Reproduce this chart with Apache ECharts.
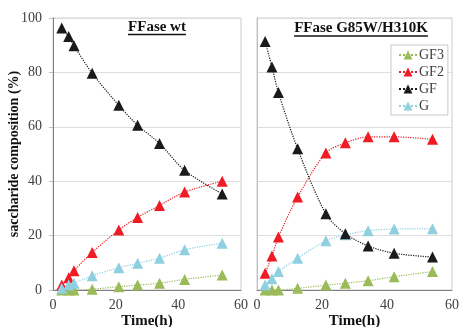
<!DOCTYPE html>
<html>
<head>
<meta charset="utf-8">
<script src="https://cdn.jsdelivr.net/npm/echarts@6/dist/echarts.min.js"></script>
<style>
  html, body { margin: 0; padding: 0; background: #fff; }
  #chart { width: 476px; height: 327px; }
</style>
</head>
<body>
<div id="chart"></div>
<script>
// sampling times (h)
const timeWt = [2.8, 5, 6.7, 12.5, 21, 27, 34, 42, 54];
const timeMut = [2.5, 4.6, 6.6, 12.5, 21.2, 27.2, 34.2, 42.2, 54];

const seriesNames = ['GF3', 'GF2', 'GF', 'G'];
const seriesColors = ['#9bbb59', '#ee1c25', '#1a1a1a', '#8ecfe0'];

// FFase wt composition (%)
const wtGF3 = [0, 0, 0, 0.3, 1.2, 1.8, 2.5, 3.9, 5.5];
const wtGF2 = [1.8, 4.5, 7.1, 13.8, 22.1, 26.7, 31.1, 36, 40];
const wtGF = [96.3, 93.2, 89.8, 79.7, 67.9, 60.6, 53.9, 44, 35.3];
const wtG = [0.6, 1.8, 2.5, 5.2, 8.2, 9.8, 11.7, 14.8, 17.2];

// FFase G85W/H310K composition (%)
const mutGF3 = [0, 0, 0, 0.6, 1.8, 2.5, 3.4, 4.9, 6.8];
const mutGF2 = [6.2, 12.5, 19.5, 34.2, 50.4, 54.1, 56.3, 56.3, 55.4];
const mutGF = [91.4, 82, 72.6, 51.9, 28, 20.7, 16.2, 13.5, 12.1];
const mutG = [1.8, 4.1, 6.8, 11.7, 18.1, 20.3, 21.8, 22.4, 22.5];

const xTicks = [0, 20, 40, 60];
const yTicks = [0, 20, 40, 60, 80, 100];

const titleWt = 'FFase wt';
const titleMut = 'FFase G85W/H310K';

const FONT = '"Liberation Serif", "DejaVu Serif", serif';

const chart = echarts.init(document.getElementById('chart'));

function pairs(xs, ys) {
  return xs.map((x, i) => [x, ys[i]]);
}

function textWidth(text, font) {
  const ctx = document.createElement('canvas').getContext('2d');
  ctx.font = font;
  return ctx.measureText(text).width;
}

function makeX(gridIndex) {
  return {
    type: 'value',
    gridIndex: gridIndex,
    min: xTicks[0],
    max: xTicks[xTicks.length - 1],
    interval: 20,
    name: 'Time(h)',
    nameLocation: 'middle',
    nameGap: 24,
    nameMoveOverlap: false,
    nameTextStyle: { fontFamily: FONT, fontWeight: 'bold', fontSize: 15, color: '#111' },
    axisLine: { lineStyle: { color: '#7f7f7f', width: 1 } },
    axisTick: { show: false },
    axisLabel: { fontFamily: FONT, fontSize: 14, color: '#404040', margin: 8 },
    splitLine: { show: false }
  };
}

function makeY(gridIndex, showLabels) {
  return {
    type: 'value',
    gridIndex: gridIndex,
    min: yTicks[0],
    max: yTicks[yTicks.length - 1],
    interval: 20,
    name: showLabels ? 'saccharide composition (%)' : '',
    nameLocation: 'middle',
    nameGap: 32,
    nameMoveOverlap: false,
    nameTextStyle: { fontFamily: FONT, fontWeight: 'bold', fontSize: 14, color: '#111' },
    axisLine: { show: true, lineStyle: { color: showLabels ? '#7f7f7f' : '#bfbfbf', width: 1 } },
    axisTick: { show: showLabels, length: 4, inside: false, lineStyle: { color: '#bfbfbf' } },
    axisLabel: { show: showLabels, fontFamily: FONT, fontSize: 14, color: '#404040', margin: 11 },
    splitLine: { show: true, lineStyle: { color: '#dedede', width: 1 } }
  };
}

const panels = [
  [wtGF3, wtGF2, wtGF, wtG],
  [mutGF3, mutGF2, mutGF, mutG]
];
const panelTimes = [timeWt, timeMut];

const series = [];
panels.forEach((set, p) => {
  set.forEach((vals, i) => {
    series.push({
      name: seriesNames[i],
      type: 'line',
      xAxisIndex: p,
      yAxisIndex: p,
      data: pairs(panelTimes[p], vals),
      symbol: 'triangle',
      symbolSize: 11,
      smooth: 0.3,
      itemStyle: { color: seriesColors[i] },
      lineStyle: { color: seriesColors[i], type: 'dotted', width: 1.2 },
      z: i === 2 ? 3 : 2
    });
  });
});

const titleFont = 'bold 15px "Liberation Serif"';
const wtCenter = 157, mutCenter = 361;
const wtW = textWidth(titleWt, titleFont);
const mutW = textWidth(titleMut, titleFont);

chart.setOption({
  animation: false,
  title: [
    { text: titleWt, left: wtCenter, top: 20, textAlign: 'center', padding: 0,
      textStyle: { fontFamily: FONT, fontWeight: 'bold', fontSize: 15, color: '#111' } },
    { text: titleMut, left: mutCenter, top: 21, textAlign: 'center', padding: 0,
      textStyle: { fontFamily: FONT, fontWeight: 'bold', fontSize: 15, color: '#111' } }
  ],
  graphic: [
    { type: 'line', shape: { x1: wtCenter - wtW / 2, y1: 34.5, x2: wtCenter + wtW / 2, y2: 34.5 },
      style: { stroke: '#111', lineWidth: 1.3 } },
    { type: 'line', shape: { x1: mutCenter - mutW / 2, y1: 36, x2: mutCenter + mutW / 2, y2: 36 },
      style: { stroke: '#111', lineWidth: 1.3 } }
  ],
  legend: {
    data: seriesNames,
    orient: 'vertical',
    left: 391,
    top: 45,
    padding: [3, 4, 2, 7],
    itemWidth: 18,
    itemHeight: 11,
    itemGap: 3,
    backgroundColor: '#fff',
    borderColor: '#c8c8c8',
    borderWidth: 1,
    textStyle: { fontFamily: FONT, fontSize: 14, color: '#404040', padding: [0, 0, 0, -3] }
  },
  grid: [
    { left: 53, right: 235, top: 18, bottom: 37, outerBoundsMode: 'none',
      show: true, borderColor: '#cccccc', borderWidth: 1 },
    { left: 257, right: 24, top: 18, bottom: 37, outerBoundsMode: 'none',
      show: true, borderColor: '#cccccc', borderWidth: 1 }
  ],
  xAxis: [makeX(0), makeX(1)],
  yAxis: [makeY(0, true), makeY(1, false)],
  series: series
});
</script>
</body>
</html>
